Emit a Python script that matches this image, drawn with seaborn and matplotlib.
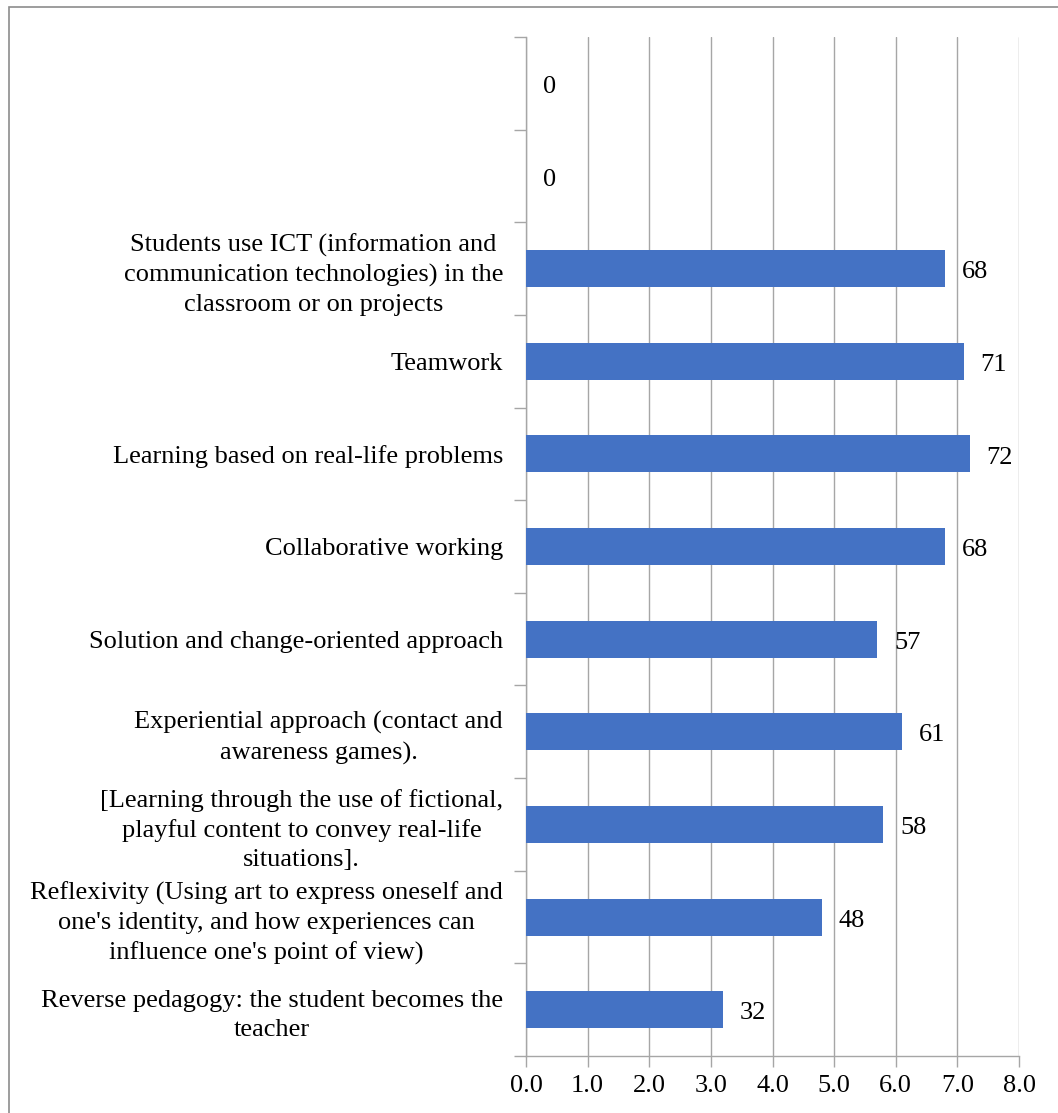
import matplotlib
matplotlib.use("Agg")
import matplotlib.pyplot as plt
import seaborn as sns
import pandas as pd
from matplotlib.patches import Rectangle

categories = [
    "",
    " ",
    "Students use ICT (information and\ncommunication technologies) in the\nclassroom or on projects",
    "Teamwork",
    "Learning based on real-life problems",
    "Collaborative working",
    "Solution and change-oriented approach",
    "Experiential approach (contact and\nawareness games).",
    "[Learning through the use of fictional,\nplayful content to convey real-life\nsituations].",
    "Reflexivity (Using art to express oneself and\none's identity, and how experiences can\ninfluence one's point of view)",
    "Reverse pedagogy: the student becomes the\nteacher",
]
labels = [0, 0, 68, 71, 72, 68, 57, 61, 58, 48, 32]
# bars are drawn on a 0-8 scale (label / 10)
scale = 10.0
xticks = [0, 1, 2, 3, 4, 5, 6, 7, 8]

df = pd.DataFrame({"category": categories,
                   "value": [v / scale for v in labels]})

sns.set_theme(style="white")
plt.rcParams["font.family"] = ["Liberation Serif", "DejaVu Serif"]
plt.rcParams["text.color"] = "black"
plt.rcParams["xtick.color"] = "#a6a6a6"
plt.rcParams["xtick.labelcolor"] = "black"
plt.rcParams["ytick.color"] = "#a6a6a6"
plt.rcParams["ytick.labelcolor"] = "black"

FS = 19

fig = plt.figure(figsize=(10.58, 11.13), dpi=100)
ax = fig.add_axes([526 / 1058, 1 - 1056 / 1113, (1019 - 526) / 1058, (1056 - 37) / 1113])

sns.barplot(data=df, x="value", y="category", orient="h", color="#4472C4",
            saturation=1, width=0.4, linewidth=0, ax=ax, zorder=3)

for i, v in enumerate(labels):
    ax.text(v / scale + 0.27, i + 0.04, f"{v}", va="center", ha="left",
            fontsize=FS, color="black", zorder=4)

ax.set_xlim(0, 8)
ax.set_ylim(len(categories) - 0.5, -0.5)
ax.set_xticks(xticks)
ax.set_xticklabels([f"{t:.1f}" for t in xticks], fontsize=FS)
ax.set_xlabel("")
ax.set_ylabel("")
ax.tick_params(axis="y", which="major", labelsize=FS, length=0, pad=16.5, left=False)
for lab in ax.get_yticklabels():
    lab.set_horizontalalignment("right")
    lab.set_multialignment("center")
    lab.set_linespacing(1.4)
    lab.set_color("black")

# boundaries between categories as outward tick marks
ax.set_yticks([i - 0.5 for i in range(len(categories) + 1)], minor=True)
ax.tick_params(axis="y", which="minor", left=True, length=9, width=1,
               color="#a6a6a6", direction="out")
ax.tick_params(axis="x", which="major", bottom=True, length=8, width=1,
               color="#a6a6a6", direction="out", pad=6)

ax.grid(axis="x", color="#a6a6a6", linewidth=1, zorder=0)
ax.set_axisbelow(True)
for side in ["top", "right"]:
    ax.spines[side].set_visible(False)
for side in ["left", "bottom"]:
    ax.spines[side].set_color("#a6a6a6")
    ax.spines[side].set_linewidth(1)

# outer frame
fig.patches.append(Rectangle((9 / 1058, -0.01), 1.02, 1 - 7 / 1113 + 0.01,
                             transform=fig.transFigure, fill=False,
                             edgecolor="#8c8c8c", linewidth=1.2))

fig.savefig("out.png", dpi=100)
